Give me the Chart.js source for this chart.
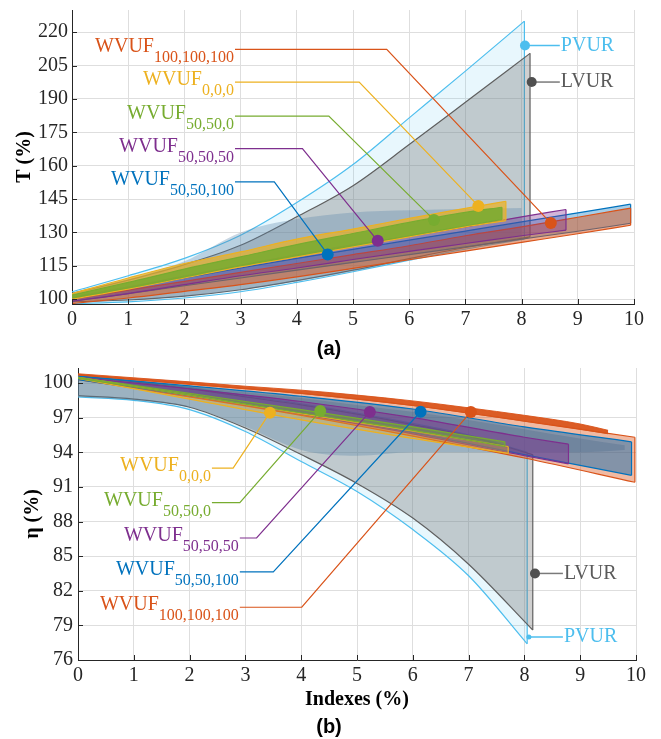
<!DOCTYPE html>
<html><head><meta charset="utf-8">
<script src="https://cdn.jsdelivr.net/npm/chart.js@4/dist/chart.umd.min.js"></script>
<style>
html,body{margin:0;padding:0;background:#fff;overflow:hidden;}
#wrap{position:relative;width:661px;height:739px;overflow:hidden;background:#fff;}
#c1{position:absolute;left:0;top:0;}
#c2{position:absolute;left:0;top:362px;}
.cap{position:absolute;font:bold 20px "Liberation Sans",Arial,sans-serif;line-height:24px;color:#000;width:60px;text-align:center;}
</style></head><body>
<div id="wrap">
<canvas id="c1" width="661" height="362"></canvas>
<canvas id="c2" width="661" height="377"></canvas>
<div class="cap" style="left:299px;top:336px;">(a)</div>
<div class="cap" style="left:299px;top:714px;">(b)</div>
</div>
<script>
// ---------------- DATA ----------------
const xTicks = [0,1,2,3,4,5,6,7,8,9,10];
const tTicks = [100,115,130,145,160,175,190,205,220];
const etaTicks = [76,79,82,85,88,91,94,97,100];

// (a) T (%)
const pvurX_a = [0,1,2,3,4,5,6,7,8.05];
const pvurUp_a = [103.3,110.5,118.3,128.7,143.4,160.5,181.5,202.5,225];
const pvurLo_a = [98,98.8,100.5,103.3,107.5,112.3,117.5,122.5,127];
const lvurX_a = [0,1,2,3,4,5,6,7,8.15];
const lvurUp_a = [102.5,108.5,115.5,124.2,137,151,169.5,188.5,210.5];
const lvurLo_a = [98.8,99.6,101.3,104.2,108.3,113,118.2,123.2,128];
const cloudX_a = [0,1,2,3,4,5,6,7,8];
const cloudTop_a = [103,109,117,130,136,139,140,140.5,141];
const cloudBot_a = [99,99.6,101.3,104.2,108,112.5,117.8,122.8,127.5];
const yelX_a = [0,1,2,3,4,5,6,7,7.72];
const yelUp_a = [102.5,109.5,116,121.2,127,131.5,136.3,140.8,144];
const yelLo_a = [100,104.5,109.5,114.5,119,123.5,128,132.5,135.3];
const grnX_a = [0,1,2,3,4,5,6,7,7.65];
const grnUp_a = [101.8,107.5,113.5,119,124.5,129.5,134.5,139,141.3];
const grnLo_a = [100.5,105,110,115,119.5,124,128.5,133,135.8];
const purX_a = [0,1,2,3,4,5,6,7,8,8.79];
const purUp_a = [101,105.5,110.5,115.3,120,124.5,128.3,132.5,137,140.3];
const purLo_a = [99,102.5,106.5,110.5,114,117.8,121.5,125,128.5,131];
const bluX_a = [0,1,2,3,4,5,6,7,8,9,9.94];
const bluUp_a = [100.5,105,109.5,114,118.3,122.4,126.5,130.6,134.7,138.8,142.7];
const bluLo_a = [99,102.5,106,109.5,113,116.5,120,123.5,127,130.5,134.1];
const orgX_a = [0,1,2,3,4,5,6,7,8,9,9.94];
const orgUp_a = [100,104,108,112,116,120,124,128.5,132.5,136.8,140.9];
const orgLo_a = [98,100.5,103.5,106.5,110,113.8,117.7,121.6,125.5,129.4,133.2];

// callouts (a): order orange, yellow, green, purple, blue
const subs_a = ['100,100,100','0,0,0','50,50,0','50,50,50','50,50,100'];
const labelX_a = [2.9,2.9,2.9,2.9,2.9];
const labelY_a = [212.3,197.6,182.3,167.7,152.7];
const cornerX_a = [5.6,5.11,4.57,4.1,3.6];
const markerX_a = [8.52,7.23,6.44,5.44,4.55];
const markerY_a = [134.2,141.9,135.6,126.2,120.1];
const refNames = ['PVUR','LVUR'];
const refMarkX_a = [8.06,8.18];
const refMarkY_a = [214,197.6];
const refTextX_a = 8.68;

// (b) eta (%)
const pvurX_b = [0,1,2,3,4,5,6,7,8.05];
const pvurUp_b = [100.7,100.2,99.6,98.9,98.2,97.4,96.5,95.5,94.0];
const pvurLo_b = [98.8,98.5,97.7,95.8,93.2,90.6,87.3,83.3,77.4];
const lvurX_b = [0,1,2,3,4,5,6,7,8.15];
const lvurUp_b = [100.6,100.1,99.5,98.8,98.1,97.3,96.4,95.4,93.8];
const lvurLo_b = [98.9,98.6,97.9,96.1,93.8,91.3,88.3,84.3,78.6];
const cloudX_b = [0,1,2,3,4,5,6,7,8,9,9.8];
const cloudTop_b = [100.6,100.2,99.7,99.2,98.7,98.1,97.5,96.8,96.0,95.2,94.6];
const cloudBot_b = [98.8,98.5,97.9,96.2,94.2,93.7,94.0,94.0,94.0,94.0,94.2];
const yelX_b = [0,2,4,6,7.71];
const yelUp_b = [100.5,98.95,97.35,95.85,94.5];
const yelLo_b = [100.4,98.6,96.8,95.2,93.9];
const grnX_b = [0,2,4,6,7.65];
const grnUp_b = [100.5,99.1,97.7,96.2,94.9];
const grnLo_b = [100.4,98.95,97.4,95.9,94.5];
const purX_b = [0,2,4,6,8,8.79];
const purUp_b = [100.5,99.5,98.4,97.0,95.3,94.7];
const purLo_b = [100.4,98.9,97.3,95.6,93.7,93.0];
const bluX_b = [0,2,4,6,8,9.92];
const bluUp_b = [100.6,99.75,98.85,97.75,96.2,94.9];
const bluLo_b = [100.3,98.9,97.4,95.7,93.8,92.0];
const orgX_b = [0,2,4,6,8,9.98];
const orgUp_b = [100.7,99.9,99.1,98.05,96.7,95.3];
const orgLo_b = [100.3,98.8,97.2,95.4,93.5,91.4];
const dotsX_b = [0,1,2,3,4,5,6,7,8,9,9.5];
const dotsTop_b = [100.8,100.45,100.1,99.72,99.38,98.95,98.45,97.85,97.2,96.45,95.9];
const dotsBot_b = [100.7,100.3,99.9,99.5,99.1,98.6,98.05,97.4,96.7,96.0,95.6];

// callouts (b): order yellow, green, purple, blue, orange
const subs_b = ['0,0,0','50,50,0','50,50,50','50,50,100','100,100,100'];
const labelX_b = [2.4,2.4,2.9,2.9,2.9];
const labelY_b = [92.63,89.63,86.57,83.63,80.57];
const cornerX_b = [2.78,2.9,3.2,3.5,4.01];
const markerX_b = [3.44,4.34,5.23,6.14,7.04];
const markerY_b = [97.43,97.57,97.49,97.51,97.49];
const refNames_b = ['LVUR','PVUR'];
const refMarkX_b = [8.19,8.08];
const refMarkY_b = [83.5,78.0];
const refTextX_b = 8.69;

// ---------------- STYLE ----------------
const COL = {orange:'#D95319', yellow:'#EDB120', green:'#77AC30', purple:'#7E2F8E', blue:'#0072BD', cyan:'#4DBEEE', gray:'#5a5a5a'};
const SERIF = '"Liberation Serif","Times New Roman",serif';

function pts(xs, ys){ return xs.map((x,i)=>({x, y:ys[i]})); }
// band = upper curve filled down to lower curve, with optional vertical right edge
function addBand(list, xs, up, lo, border, fillc, order, bw, edge){
  const w = bw===undefined ? 1.2 : bw;
  const iUp = list.length;
  list.push({data:pts(xs,up), borderColor:border, borderWidth:w, backgroundColor:fillc, fill:iUp+1,
    pointRadius:0, cubicInterpolationMode:'monotone', order});
  list.push({data:pts(xs,lo), borderColor:border, borderWidth:w, backgroundColor:fillc, fill:false,
    pointRadius:0, cubicInterpolationMode:'monotone', order:order-0.1});
  if (edge){
    const n = xs.length-1;
    list.push({data:[{x:xs[n],y:lo[n]},{x:xs[n],y:up[n]}], borderColor:border, borderWidth:w, fill:false,
      pointRadius:0, order:order-0.1});
  }
}
function lineDs(p, color, order, bw){
  return {data:p, borderColor:color, backgroundColor:color, borderWidth:bw||1.2, fill:false, pointRadius:0, tension:0, order};
}

const insideTicks = {
  id:'insideTicks',
  afterDraw(chart){
    const {ctx, chartArea:a, scales:{x,y}} = chart;
    ctx.save(); ctx.strokeStyle='#262626'; ctx.lineWidth=1; ctx.beginPath();
    x.ticks.forEach(t=>{const px=Math.round(x.getPixelForValue(t.value))+0.5; ctx.moveTo(px,a.bottom); ctx.lineTo(px,a.bottom-5);});
    y.ticks.forEach(t=>{const py=Math.round(y.getPixelForValue(t.value))+0.5; ctx.moveTo(a.left,py); ctx.lineTo(a.left+5,py);});
    ctx.stroke(); ctx.restore();
  }
};
function textPlugin(items){
  return {id:'calloutText', afterDatasetsDraw(chart){
    const {ctx, scales:{x,y}} = chart;
    ctx.save();
    items.forEach(it=>{
      const px = x.getPixelForValue(it.x), py = y.getPixelForValue(it.y);
      ctx.fillStyle = it.color;
      if (it.sub !== undefined){
        ctx.textBaseline='alphabetic'; ctx.textAlign='right';
        ctx.font = '16px '+SERIF;
        const sw = ctx.measureText(it.sub).width;
        ctx.fillText(it.sub, px-1, py+13);
        ctx.font = '20px '+SERIF;
        ctx.fillText(it.text, px-1-sw, py+3);
      } else {
        ctx.textBaseline='middle'; ctx.textAlign='left';
        ctx.font = '20px '+SERIF;
        ctx.fillText(it.text, px+1, py);
      }
    });
    ctx.restore();
  }};
}
function xScale(h, padTick, title){
  return {type:'linear', min:0, max:10,
    afterBuildTicks: s=>{ s.ticks = xTicks.map(v=>({value:v})); },
    afterFit: s=>{ s.paddingLeft=0; s.paddingRight=0; s.height=h; },
    grid:{color:'#dedede', lineWidth:1, drawTicks:false},
    border:{color:'#262626', width:1},
    ticks:{color:'#262626', font:{family:SERIF, size:20}, padding:padTick, maxRotation:0, autoSkip:false},
    title: title || {display:false}
  };
}
function yScale(min, max, ticks, w, padTick, title){
  return {type:'linear', min, max,
    afterBuildTicks: s=>{ s.ticks = ticks.map(v=>({value:v})); },
    afterFit: s=>{ s.paddingTop=0; s.paddingBottom=0; s.width=w; },
    grid:{color:'#dedede', lineWidth:1, drawTicks:false},
    border:{color:'#262626', width:1},
    ticks:{color:'#262626', font:{family:SERIF, size:20}, padding:padTick, autoSkip:false},
    title: title
  };
}

// ---------------- CHART (a) ----------------
const colsA = [COL.orange, COL.yellow, COL.green, COL.purple, COL.blue];
const dsA = [];
addBand(dsA, pvurX_a, pvurUp_a, pvurLo_a, COL.cyan, 'rgba(77,190,238,0.13)', 100, 1.2, true);
addBand(dsA, lvurX_a, lvurUp_a, lvurLo_a, '#5f5f5f', 'rgba(112,112,112,0.33)', 95, 1.2, true);
addBand(dsA, cloudX_a, cloudTop_a, cloudBot_a, 'rgba(0,0,0,0)', 'rgba(90,135,170,0.33)', 90, 0, false);
addBand(dsA, bluX_a, bluUp_a, bluLo_a, COL.blue, 'rgba(0,114,189,0.35)', 80, 1.2, true);
addBand(dsA, orgX_a, orgUp_a, orgLo_a, COL.orange, 'rgba(217,83,25,0.5)', 75, 1.2, true);
addBand(dsA, purX_a, purUp_a, purLo_a, COL.purple, 'rgba(126,47,142,0.35)', 70, 1.2, true);
addBand(dsA, yelX_a, yelUp_a, yelLo_a, COL.yellow, 'rgba(237,177,32,0.7)', 65, 1.2, true);
addBand(dsA, grnX_a, grnUp_a, grnLo_a, COL.green, 'rgba(119,172,48,0.85)', 60, 1.2, true);
subs_a.forEach((s,i)=>{
  dsA.push(lineDs([{x:labelX_a[i],y:labelY_a[i]},{x:cornerX_a[i],y:labelY_a[i]},{x:markerX_a[i],y:markerY_a[i]}], colsA[i], 20));
});
const refColsA = [COL.cyan, '#7a7a7a'];
const refMarkColsA = [COL.cyan, '#505050'];
refNames.forEach((n,i)=>{
  dsA.push(lineDs([{x:refMarkX_a[i],y:refMarkY_a[i]},{x:refTextX_a,y:refMarkY_a[i]}], refColsA[i], 20, 1.5));
});
dsA.push({data: pts(markerX_a, markerY_a).concat(pts(refMarkX_a, refMarkY_a)),
  showLine:false, pointRadius:[6,6,6,6,6,5,5], pointBorderWidth:0,
  pointBackgroundColor: colsA.concat(refMarkColsA), pointBorderColor: colsA.concat(refMarkColsA), order:10});

const textA = subs_a.map((s,i)=>({text:'WVUF', sub:s, x:labelX_a[i], y:labelY_a[i], color:colsA[i]}))
  .concat(refNames.map((n,i)=>({text:n, x:refTextX_a, y:refMarkY_a[i], color: i===0?COL.cyan:'#5a5a5a'})));

new Chart(document.getElementById('c1'), {
  type:'line',
  data:{datasets:dsA},
  options:{responsive:false, animation:false, events:[],
    layout:{padding:{left:0, top:10, right:27, bottom:0}},
    plugins:{legend:{display:false}, tooltip:{enabled:false}},
    scales:{
      x: xScale(58, 4),
      y: yScale(97.8, 230, tTicks, 72, 4, {display:true, text:'T (%)', color:'#000', font:{family:SERIF, size:20, weight:'bold'}, padding:{top:13,bottom:0}})
    }
  },
  plugins:[insideTicks, textPlugin(textA)]
});

// ---------------- CHART (b) ----------------
const colsB = [COL.yellow, COL.green, COL.purple, COL.blue, COL.orange];
const dsB = [];
addBand(dsB, pvurX_b, pvurUp_b, pvurLo_b, COL.cyan, 'rgba(77,190,238,0.13)', 100, 1.2, true);
addBand(dsB, lvurX_b, lvurUp_b, lvurLo_b, '#5f5f5f', 'rgba(112,112,112,0.33)', 95, 1.2, true);
addBand(dsB, cloudX_b, cloudTop_b, cloudBot_b, 'rgba(0,0,0,0)', 'rgba(90,135,170,0.35)', 90, 0, false);
addBand(dsB, orgX_b, orgUp_b, orgLo_b, COL.orange, 'rgba(217,83,25,0.4)', 80, 1.2, true);
addBand(dsB, bluX_b, bluUp_b, bluLo_b, COL.blue, 'rgba(0,100,175,0.45)', 75, 1.2, true);
addBand(dsB, purX_b, purUp_b, purLo_b, COL.purple, 'rgba(126,47,142,0.45)', 70, 1.2, true);
addBand(dsB, yelX_b, yelUp_b, yelLo_b, COL.yellow, 'rgba(237,177,32,0.35)', 65, 1.2, true);
addBand(dsB, grnX_b, grnUp_b, grnLo_b, COL.green, 'rgba(119,172,48,0.5)', 60, 1.2, true);
addBand(dsB, dotsX_b, dotsTop_b, dotsBot_b, 'rgba(217,83,25,0.9)', 'rgba(217,83,25,0.95)', 55, 1, false);
subs_b.forEach((s,i)=>{
  dsB.push(lineDs([{x:labelX_b[i],y:labelY_b[i]},{x:cornerX_b[i],y:labelY_b[i]},{x:markerX_b[i],y:markerY_b[i]}], colsB[i], 20));
});
const refColsB = ['#7a7a7a', COL.cyan];
const refMarkColsB = ['#505050', COL.cyan];
refNames_b.forEach((n,i)=>{
  dsB.push(lineDs([{x:refMarkX_b[i],y:refMarkY_b[i]},{x:refTextX_b,y:refMarkY_b[i]}], refColsB[i], 20, 1.5));
});
dsB.push({data: pts(markerX_b, markerY_b).concat(pts(refMarkX_b, refMarkY_b)),
  showLine:false, pointRadius:[6,6,6,6,6,5,2.5], pointBorderWidth:0,
  pointBackgroundColor: colsB.concat(refMarkColsB), pointBorderColor: colsB.concat(refMarkColsB), order:10});

const textB = subs_b.map((s,i)=>({text:'WVUF', sub:s, x:labelX_b[i], y:labelY_b[i], color:colsB[i]}))
  .concat(refNames_b.map((n,i)=>({text:n, x:refTextX_b, y:refMarkY_b[i], color: i===1?COL.cyan:'#5a5a5a'})));

new Chart(document.getElementById('c2'), {
  type:'line',
  data:{datasets:dsB},
  options:{responsive:false, animation:false, events:[],
    layout:{padding:{left:0, top:3, right:25, bottom:0}},
    plugins:{legend:{display:false}, tooltip:{enabled:false}},
    scales:{
      x: xScale(79, 4, {display:true, text:'Indexes (%)', color:'#000', font:{family:SERIF, size:20, weight:'bold'}, padding:{top:0,bottom:27}}),
      y: yScale(76, 101.3, etaTicks, 78, 5, {display:true, text:'η (%)', color:'#000', font:{family:SERIF, size:20, weight:'bold'}, padding:{top:21,bottom:0}})
    }
  },
  plugins:[insideTicks, textPlugin(textB)]
});
</script>
</body></html>
